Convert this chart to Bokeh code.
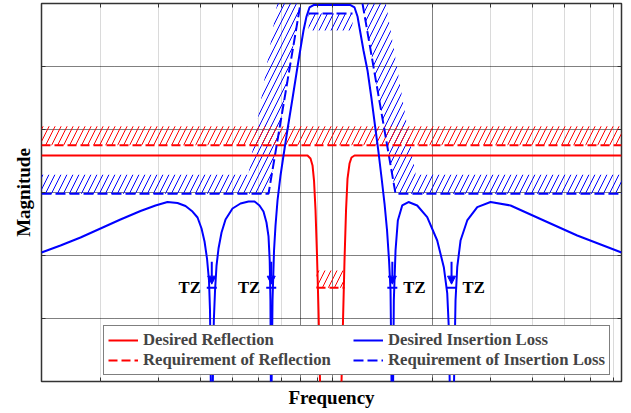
from bokeh.plotting import figure
from bokeh.models import (ColumnDataSource, Range1d, FixedTicker, Grid, LinearAxis, LogAxis,
                          Legend, LegendItem, Arrow, NormalHead, CustomJSTickFormatter)
from bokeh.core.properties import value
from bokeh.embed import file_html
from bokeh.resources import INLINE

# ---------------------------------------------------------------- data
F_MIN, F_MAX = 1.329, 74.2          # frequency span (log axis)
MAG_MIN, MAG_MAX = 0.0, 6.0         # magnitude span

# Desired insertion loss (|S21|), sampled response
il_freq = [1.329, 1.516, 1.742, 2.001, 2.298, 2.641, 2.930, 3.184, 3.413, 3.608,
           3.787, 3.922, 4.032, 4.117, 4.188, 4.246, 4.276, 4.299, 4.329,
           4.361, 4.391, 4.428, 4.474, 4.536, 4.632, 4.762, 4.998, 5.284, 5.585,
           5.823, 6.026, 6.196, 6.326, 6.416, 6.469, 6.502, 6.520, 6.538,
           6.556, 6.597, 6.666, 6.735, 6.829, 6.973, 7.119, 7.319, 7.577, 7.847,
           8.009, 8.178, 8.350, 8.525, 8.766, 9.931, 11.330, 11.651, 11.895,
           12.144, 12.399, 12.747, 13.105, 13.476, 13.760, 14.049, 14.344, 14.598,
           14.801, 14.955, 15.058, 15.142,
           15.226, 15.300, 15.482, 15.731, 16.216, 16.937, 17.991, 19.285, 20.67,
           21.64, 22.16, 22.40, 22.54, 22.83,
           23.23, 23.47, 23.75, 24.30, 25.45, 27.29, 29.92, 34.37, 43.29, 54.58, 74.2]
il_mag = [2.048, 2.159, 2.286, 2.429, 2.571, 2.706, 2.794, 2.849, 2.833, 2.786,
          2.698, 2.603, 2.429, 2.222, 1.952, 1.603, 1.127, 0.0, -2.0,
          0.0, 0.968, 1.444, 1.841, 2.111, 2.365, 2.571, 2.746, 2.825, 2.857,
          2.857, 2.794, 2.698, 2.524, 2.302, 1.921, 1.286, 0.0, -2.0,
          0.0, 1.286, 2.079, 2.476, 2.873, 3.270, 3.587, 4.0, 4.492, 5.0,
          5.286, 5.571, 5.794, 5.937, 5.975, 5.98, 5.975, 5.937, 5.794,
          5.524, 5.254, 4.937, 4.492, 4.0, 3.635, 3.238, 2.825, 2.397,
          1.921, 1.444, 0.0, -2.0,
          0.0, 1.286, 2.079, 2.556, 2.794, 2.849, 2.794, 2.608, 2.238,
          1.814, 1.397, 0.857, 0.0, -2.0,
          0.0, 1.286, 1.814, 2.238, 2.556, 2.767, 2.849, 2.794, 2.556, 2.317, 2.048]

# Desired reflection (|S11|), sampled response
refl_freq = [1.329, 8.408, 8.585, 8.706, 8.797, 8.889, 8.981, 9.075, 9.170, 9.897,
             10.645, 10.756, 10.868, 10.983, 11.097, 11.252, 11.409, 11.651, 74.2]
refl_mag = [3.587, 3.587, 3.540, 3.429, 3.190, 2.714, 2.0, 1.127, 0.0, -3.0,
            0.0, 0.968, 1.921, 2.714, 3.222, 3.460, 3.556, 3.587, 3.587]

# Insertion-loss requirement mask: lower stopband, passband, upper stopband
il_req_low_freq = [F_MIN, 6.416, 8.009]
il_req_low_mag = [2.98, 2.98, 6.0]
il_req_pass_freq = [8.468, 11.488]
il_req_pass_mag = [5.84, 5.84]
il_req_high_freq = [12.313, 15.482, F_MAX]
il_req_high_mag = [6.0, 2.98, 2.98]

# Reflection requirement mask: out of band and in band
refl_req_out_freq = [F_MIN, F_MAX]
refl_req_out_mag = [3.75, 3.75]
refl_req_in_freq = [8.950, 10.868]
refl_req_in_mag = [1.49, 1.49]

# Transmission zeros
tz_freq = [4.329, 6.538, 15.142, 22.83]
tz_label = ["TZ", "TZ", "TZ", "TZ"]

# Grid / tick positions
x_ticks = [2, 3, 4, 5, 6, 7, 8, 9, 10, 20, 30, 40, 50, 60, 70]
x_major = [8, 10, 20]
y_ticks = [1, 2, 3, 4, 5]

# ---------------------------------------------------------------- style
BLUE = "#0000FF"
RED = "#FF0000"
SERIF = "Liberation Serif"
HATCH_DEPTH = 0.30      # thickness of a hatched forbidden band (magnitude units)
HATCH_RATIO = 1.15      # horizontal shift of slanted hatched bands (frequency ratio)
ARROW_TOP, ARROW_TIP, MARK_LEVEL = 1.90, 1.545, 1.49
F_CENTER = (il_req_pass_freq[0] * il_req_pass_freq[1]) ** 0.5


def band(freqs, mags, ratio, dm):
    """Polygon between a mask polyline and a shifted copy of it."""
    xs = list(freqs) + [f * ratio for f in reversed(freqs)]
    ys = list(mags) + [m + dm for m in reversed(mags)]
    return xs, ys


p = figure(width=631, height=413, x_axis_type="log",
           x_range=Range1d(F_MIN, F_MAX), y_range=Range1d(MAG_MIN, MAG_MAX),
           output_backend="svg", toolbar_location=None,
           min_border_left=41, min_border_right=10, min_border_top=3, min_border_bottom=32)
p.background_fill_color = "white"
p.border_fill_color = "white"
p.outline_line_color = "#333333"
p.outline_line_width = 1.5

# axes: ticks inside on all four sides, no tick labels
bottom_axis = p.below[0]
left_axis = p.left[0]
top_axis = LogAxis()
right_axis = LinearAxis()
p.add_layout(top_axis, "above")
p.add_layout(right_axis, "right")
for ax in (bottom_axis, top_axis):
    ax.ticker = FixedTicker(ticks=x_ticks)
for ax in (left_axis, right_axis):
    ax.ticker = FixedTicker(ticks=y_ticks)
for ax in (bottom_axis, top_axis, left_axis, right_axis):
    ax.formatter = CustomJSTickFormatter(code="return ''")
    ax.major_tick_in = 4
    ax.major_tick_out = 0
    ax.minor_tick_in = 0
    ax.minor_tick_out = 0
    ax.major_tick_line_color = "#333333"
    ax.major_tick_line_width = 1
    ax.axis_line_color = None
    ax.major_label_standoff = 0

bottom_axis.axis_label = "Frequency"
left_axis.axis_label = "Magnitude"
for ax in (bottom_axis, left_axis):
    ax.axis_label_text_font = SERIF
    ax.axis_label_text_font_style = "bold"
    ax.axis_label_text_font_size = "19px"
    ax.axis_label_text_color = "black"
bottom_axis.axis_label_standoff = 5
left_axis.axis_label_standoff = 8

# grid
p.xgrid.ticker = FixedTicker(ticks=[t for t in x_ticks if t not in x_major])
p.xgrid.grid_line_color = "#b4b4b4"
p.xgrid.grid_line_dash = "1 1"
p.add_layout(Grid(dimension=0, ticker=FixedTicker(ticks=x_major),
                  grid_line_color="black", grid_line_dash="1 1"))
p.ygrid.ticker = FixedTicker(ticks=y_ticks)
p.ygrid.grid_line_color = "black"
p.ygrid.grid_line_dash = "1 1"

# hatched forbidden regions
blue_bands = [band(il_req_low_freq, il_req_low_mag, 1 / HATCH_RATIO, HATCH_DEPTH),
              band(il_req_high_freq, il_req_high_mag, HATCH_RATIO, HATCH_DEPTH),
              band(il_req_pass_freq, il_req_pass_mag, 1, -0.9 * HATCH_DEPTH)]
red_bands = [band(refl_req_out_freq, refl_req_out_mag, 1, HATCH_DEPTH),
             band(refl_req_in_freq, refl_req_in_mag, 1, 0.9 * HATCH_DEPTH)]
for bands, color in ((blue_bands, BLUE), (red_bands, RED)):
    p.patches(xs=[b[0] for b in bands], ys=[b[1] for b in bands],
              fill_color=None, line_color=None,
              hatch_pattern="/", hatch_color=color, hatch_weight=1, hatch_scale=12)

# requirement masks
r_refl_req = p.multi_line(xs=[refl_req_out_freq, refl_req_in_freq],
                          ys=[refl_req_out_mag, refl_req_in_mag],
                          line_color=RED, line_width=2, line_dash="9 4")
r_il_req = p.multi_line(xs=[il_req_low_freq, il_req_pass_freq, il_req_high_freq],
                        ys=[il_req_low_mag, il_req_pass_mag, il_req_high_mag],
                        line_color=BLUE, line_width=2, line_dash="10 4")

# responses
r_refl = p.line(refl_freq, refl_mag, line_color=RED, line_width=2)
r_il = p.line(il_freq, il_mag, line_color=BLUE, line_width=2)

# transmission-zero markers
tz_src = ColumnDataSource(dict(
    f=tz_freq,
    top=[ARROW_TOP] * len(tz_freq),
    tip=[ARROW_TIP] * len(tz_freq),
    mark=[MARK_LEVEL] * len(tz_freq),
    label=tz_label,
    align=["right" if f < F_CENTER else "left" for f in tz_freq],
    dx=[-11 if f < F_CENTER else 11 for f in tz_freq],
))
p.add_layout(Arrow(end=NormalHead(size=8, fill_color=BLUE, line_color=BLUE, line_width=1),
                   x_start="f", y_start="top", x_end="f", y_end="tip",
                   line_color=BLUE, line_width=2, source=tz_src))
p.scatter(x="f", y="mark", marker="dash", size=10, line_color=BLUE, line_width=2, source=tz_src)
p.text(x="f", y="mark", text="label", text_align="align", x_offset="dx",
       text_baseline="alphabetic", text_font=value(SERIF), text_font_style="bold",
       text_font_size="16.7px", text_color="black", source=tz_src)

# legend
legend = Legend(items=[
    LegendItem(label="Desired Reflection", renderers=[r_refl]),
    LegendItem(label="Requirement of Reflection", renderers=[r_refl_req]),
    LegendItem(label="Desired Insertion Loss", renderers=[r_il]),
    LegendItem(label="Requirement of Insertion Loss", renderers=[r_il_req]),
], location=(62, 6), orientation="vertical", nrows=2)
legend.border_line_color = "black"
legend.border_line_width = 1.5
legend.background_fill_color = "white"
legend.background_fill_alpha = 1.0
legend.label_text_font = SERIF
legend.label_text_font_style = "bold"
legend.label_text_font_size = "16.7px"
legend.glyph_width = 30
legend.label_standoff = 5
legend.label_width = 210
legend.padding = 4
legend.spacing = 0
legend.margin = 0
p.add_layout(legend)

open("out.html", "w").write(file_html(p, INLINE))
